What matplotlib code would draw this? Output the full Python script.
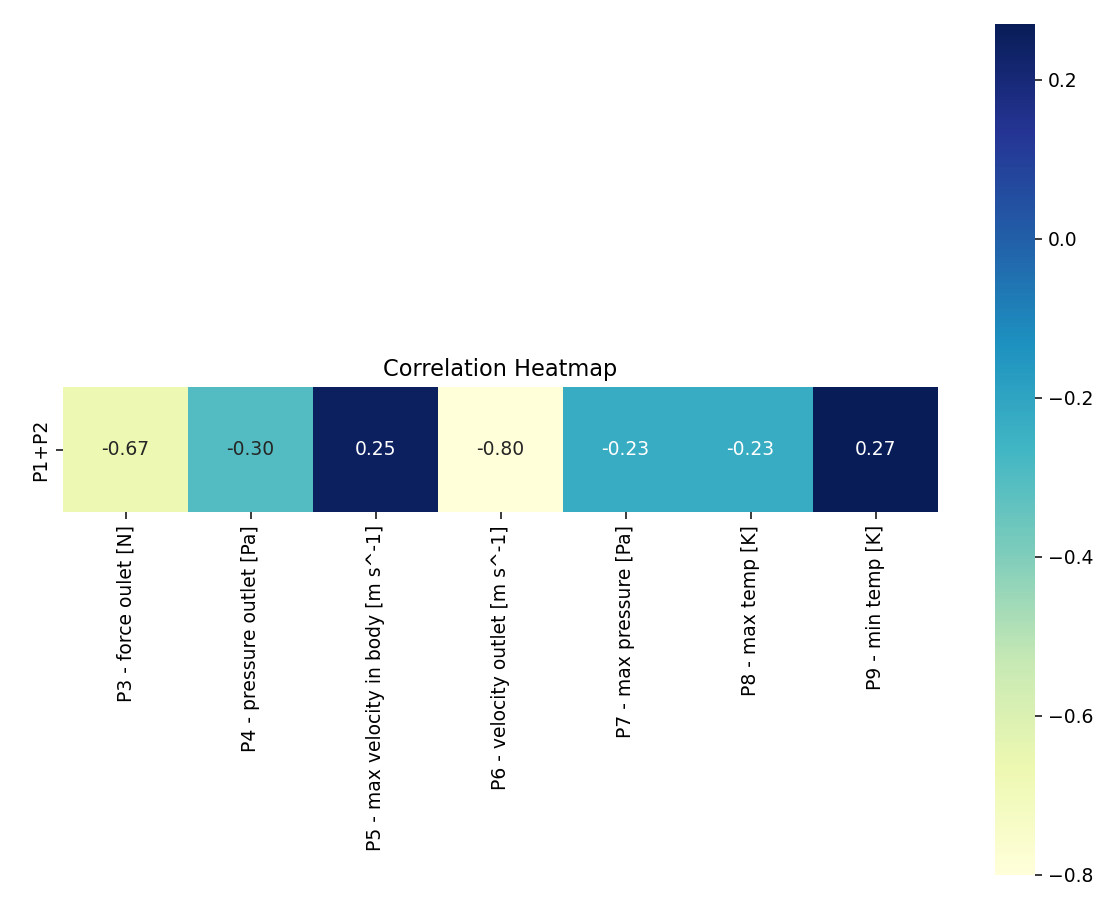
import matplotlib
matplotlib.use("Agg")
import matplotlib.pyplot as plt
import pandas as pd
import seaborn as sns

# correlation of the combined input P1+P2 with each output
row_label = "P1+P2"
outputs = [
    "P3 - force oulet [N]",
    "P4 - pressure outlet [Pa]",
    "P5 - max velocity in body [m s^-1]",
    "P6 - velocity outlet [m s^-1]",
    "P7 - max pressure [Pa]",
    "P8 - max temp [K]",
    "P9 - min temp [K]",
]
corr = [-0.67, -0.30, 0.25, -0.80, -0.23, -0.23, 0.27]

df = pd.DataFrame([corr], index=[row_label], columns=outputs)

W, H, DPI = 1103, 899, 135
fig = plt.figure(figsize=(W / DPI, H / DPI), dpi=DPI)
ax = fig.add_axes([63 / W, 24 / H, 875 / W, 851 / H])
cax = fig.add_axes([995 / W, 24 / H, 40 / W, 851 / H])

sns.heatmap(df, annot=True, fmt=".2f", cmap="YlGnBu", square=True,
            ax=ax, cbar_ax=cax)
ax.set_title("Correlation Heatmap")
ax.tick_params(axis="x", labelrotation=90)
ax.tick_params(axis="y", labelrotation=90)
for t in ax.get_yticklabels():
    t.set_va("center")

fig.savefig("out.png", dpi=DPI)
